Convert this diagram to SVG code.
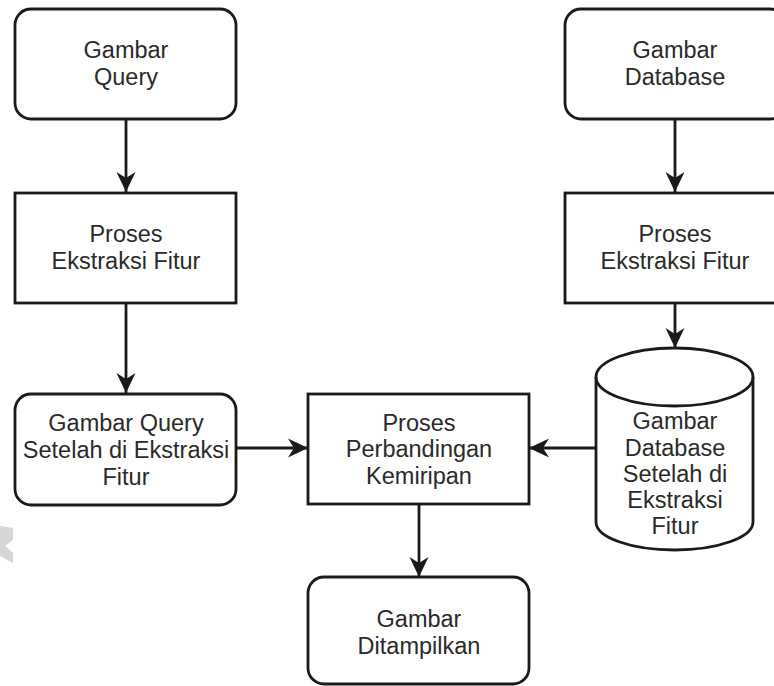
<svg xmlns="http://www.w3.org/2000/svg" width="774" height="686" viewBox="0 0 774 686">
<style>
.box{fill:#fff;stroke:#1a1a1a;stroke-width:2.8}
.lbl{font-family:"Liberation Sans",Arial,Helvetica,sans-serif;font-size:23.5px;fill:#2a2a2a;text-anchor:middle}
.edge{fill:none;stroke:#1a1a1a;stroke-width:2.8}
</style>
<defs>
<marker id="arr" markerUnits="userSpaceOnUse" markerWidth="22" markerHeight="22" viewBox="0 0 22 22" refX="20" refY="11" orient="auto">
<path d="M0,1.5 L20,11 L0,20.5 L6,11 Z" fill="#1a1a1a"/>
</marker>
</defs>
<rect width="774" height="686" fill="#fff"/>
<polygon points="0,526 13,528 13,540 5,546 13,553 13,563 0,556" fill="#d6d6d6"/>
<g id="connectors">
<line class="edge" x1="126" y1="120" x2="126" y2="192" marker-end="url(#arr)"/>
<line class="edge" x1="126" y1="303" x2="126" y2="393" marker-end="url(#arr)"/>
<line class="edge" x1="675" y1="120" x2="675" y2="192" marker-end="url(#arr)"/>
<line class="edge" x1="675" y1="303" x2="675" y2="348" marker-end="url(#arr)"/>
<line class="edge" x1="236" y1="448" x2="308" y2="448" marker-end="url(#arr)"/>
<line class="edge" x1="596" y1="448" x2="529" y2="448" marker-end="url(#arr)"/>
<line class="edge" x1="419" y1="504" x2="419" y2="577" marker-end="url(#arr)"/>
</g>
<g id="gambar-query">
<rect class="box" x="15" y="9" width="221" height="110" rx="16"/>
<text class="lbl" x="126" y="58">Gambar</text>
<text class="lbl" x="126" y="85">Query</text>
</g>
<g id="ekstraksi-query">
<rect class="box" x="15" y="193" width="221" height="110"/>
<text class="lbl" x="126" y="242">Proses</text>
<text class="lbl" x="126" y="269">Ekstraksi Fitur</text>
</g>
<g id="query-ekstraksi">
<rect class="box" x="15" y="394" width="221" height="111" rx="16"/>
<text class="lbl" x="126" y="431">Gambar Query</text>
<text class="lbl" x="126" y="458">Setelah di Ekstraksi</text>
<text class="lbl" x="126" y="485">Fitur</text>
</g>
<g id="gambar-database">
<rect class="box" x="565" y="9" width="221" height="110" rx="16"/>
<text class="lbl" x="675" y="58">Gambar</text>
<text class="lbl" x="675" y="85">Database</text>
</g>
<g id="ekstraksi-database">
<rect class="box" x="565" y="193" width="221" height="110"/>
<text class="lbl" x="675" y="242">Proses</text>
<text class="lbl" x="675" y="269">Ekstraksi Fitur</text>
</g>
<g id="database-ekstraksi">
<path class="box" d="M596,377 A78.5,29 0 0 1 753,377 L753,522 A78.5,28 0 0 1 596,522 Z"/>
<path class="edge" d="M596,377 A78.5,29 0 0 0 753,377"/>
<text class="lbl" x="675" y="429">Gambar</text>
<text class="lbl" x="675" y="456">Database</text>
<text class="lbl" x="675" y="482">Setelah di</text>
<text class="lbl" x="675" y="508">Ekstraksi</text>
<text class="lbl" x="675" y="534">Fitur</text>
</g>
<g id="perbandingan">
<rect class="box" x="308" y="394" width="221" height="110"/>
<text class="lbl" x="419" y="431">Proses</text>
<text class="lbl" x="419" y="457">Perbandingan</text>
<text class="lbl" x="419" y="484">Kemiripan</text>
</g>
<g id="ditampilkan">
<rect class="box" x="308" y="577" width="221" height="107" rx="16"/>
<text class="lbl" x="419" y="627">Gambar</text>
<text class="lbl" x="419" y="654">Ditampilkan</text>
</g>
</svg>
